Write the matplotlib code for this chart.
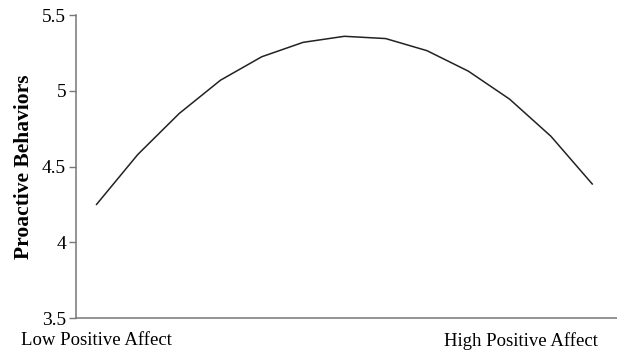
import matplotlib
matplotlib.use("Agg")
import matplotlib.pyplot as plt

# readings, low -> high positive affect
steps = list(range(13))
proactive = [4.25, 4.58, 4.85, 5.07, 5.225, 5.32, 5.36, 5.345, 5.265, 5.13, 4.945, 4.70, 4.385]

y_ticks = [3.5, 4, 4.5, 5, 5.5]
y_tick_labels = ["3.5", "4", "4.5", "5", "5.5"]
x_labels = ["Low Positive Affect", "High Positive Affect"]

plt.rcParams["font.family"] = ["Liberation Serif", "DejaVu Serif"]

fig = plt.figure(figsize=(6.17, 3.51), dpi=100)
ax = fig.add_axes([0.123, 0.094, 0.877, 0.863])

ax.plot(steps, proactive, color="#222222", linewidth=1.1)

ax.set_xlim(-0.5, 12.6)
ax.set_ylim(3.5, 5.5)

ax.set_yticks(y_ticks)
ax.set_yticklabels(y_tick_labels, fontsize=14)
ax.tick_params(axis="y", length=5, width=1, color="#777777", pad=2)

ax.set_xticks([0, 10.27])
ax.set_xticklabels(x_labels, fontsize=13.5)
ax.tick_params(axis="x", length=0, pad=10)

ax.set_ylabel("Proactive Behaviors", fontsize=15.5, fontweight="bold", labelpad=6)

for side in ["top", "right"]:
    ax.spines[side].set_visible(False)
for side in ["left", "bottom"]:
    ax.spines[side].set_color("#777777")
    ax.spines[side].set_linewidth(1.1)

fig.savefig("out.png", dpi=100)
